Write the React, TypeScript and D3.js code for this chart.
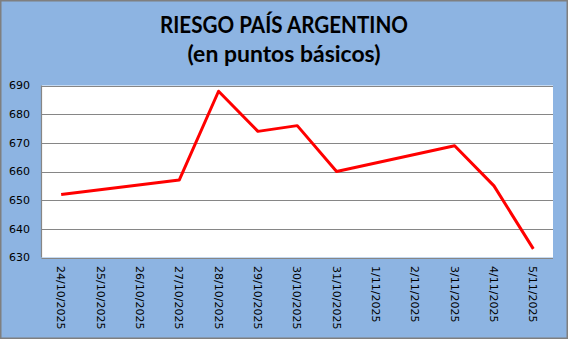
import React from "react";
import * as d3 from "d3";

const categories = [
  "24/10/2025", "25/10/2025", "26/10/2025", "27/10/2025", "28/10/2025",
  "29/10/2025", "30/10/2025", "31/10/2025", "1/11/2025", "2/11/2025",
  "3/11/2025", "4/11/2025", "5/11/2025",
];
const pointDates = [
  "24/10/2025", "27/10/2025", "28/10/2025", "29/10/2025", "30/10/2025",
  "31/10/2025", "3/11/2025", "4/11/2025", "5/11/2025",
];
const pointValues = [652, 657, 688, 674, 676, 660, 669, 655, 633];
const yTicks = [630, 640, 650, 660, 670, 680, 690];
const titleLines = ["RIESGO PAÍS ARGENTINO", "(en puntos básicos)"];

const W = 568;
const H = 339;
const plot = { left: 41.5, right: 553, top: 85.5, bottom: 257.5 };

export default function App() {
  const x = d3.scaleBand<string>().domain(categories).range([plot.left, plot.right]).padding(0);
  const y = d3.scaleLinear().domain([630, 690]).range([plot.bottom, plot.top]);
  const cx = (d: string) => (x(d) as number) + x.bandwidth() / 2;
  const data = pointDates.map((d, i) => ({ d, v: pointValues[i] }));
  const line = d3
    .line<{ d: string; v: number }>()
    .x((p) => cx(p.d))
    .y((p) => y(p.v));

  return (
    <svg
      width={W}
      height={H}
      style={{ position: "absolute", left: 0, top: 0 }}
      fontFamily="'DejaVu Sans', sans-serif"
    >
      <rect x={0.75} y={0.75} width={W - 1.5} height={H - 1.5} fill="#8db4e2" stroke="#7f7f7f" strokeWidth={1.5} />
      <text x={284} y={33} textAnchor="middle" fontFamily="Lato, sans-serif" fontWeight="bold" fontSize={22}
        textLength={248} lengthAdjust="spacingAndGlyphs" fill="#000">{titleLines[0]}</text>
      <text x={284} y={62} textAnchor="middle" fontFamily="Lato, sans-serif" fontWeight="bold" fontSize={22}
        textLength={193} lengthAdjust="spacingAndGlyphs" fill="#000">{titleLines[1]}</text>
      <rect x={plot.left} y={plot.top} width={plot.right - plot.left} height={plot.bottom - plot.top} fill="#fff" />
      {yTicks.map((t) => (
        <g key={t}>
          <line x1={plot.left} x2={plot.right} y1={Math.round(y(t)) + 0.5} y2={Math.round(y(t)) + 0.5} stroke="#868686" strokeWidth={1.2} />
          <text x={30} y={y(t)} dy="0.35em" textAnchor="end" fontSize={11} fill="#000">{t}</text>
        </g>
      ))}
      <line x1={plot.left} x2={plot.left} y1={plot.top} y2={plot.bottom} stroke="#868686" strokeWidth={1.2} />
      {categories.map((c) => (
        <text key={c} transform={`translate(${cx(c)},266) rotate(90)`} dy="0.35em" fontSize={11} fill="#000">{c}</text>
      ))}
      <path d={line(data) as string} fill="none" stroke="#ff0000" strokeWidth={3} strokeLinejoin="round" />
    </svg>
  );
}
